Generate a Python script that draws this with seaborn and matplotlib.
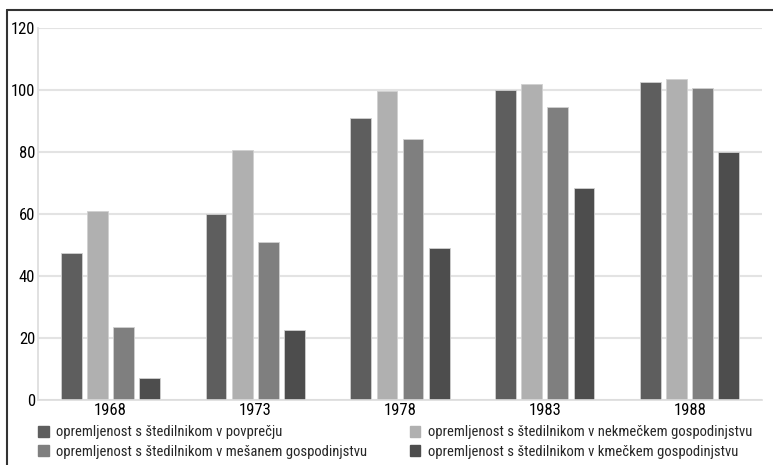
import matplotlib
matplotlib.use("Agg")
import matplotlib.pyplot as plt
import matplotlib.lines as mlines
import seaborn as sns
import pandas as pd
from matplotlib import font_manager

years = ["1968", "1973", "1978", "1983", "1988"]
series = [
    "opremljenost s štedilnikom v povprečju",
    "opremljenost s štedilnikom v nekmečkem gospodinjstvu",
    "opremljenost s štedilnikom v mešanem gospodinjstvu",
    "opremljenost s štedilnikom v kmečkem gospodinjstvu",
]
povprecje = [47.5, 60, 91, 100, 102.5]
nekmecko = [61, 80.5, 99.5, 102, 103.5]
mesano = [23.5, 51, 84, 94.5, 100.5]
kmecko = [7, 22.7, 49, 68.5, 80]
colors = ["#5e5e5e", "#b0b0b0", "#7f7f7f", "#4d4d4d"]
yticks = [0, 20, 40, 60, 80, 100, 120]

rows = []
for name, vals in zip(series, [povprecje, nekmecko, mesano, kmecko]):
    for y, v in zip(years, vals):
        rows.append({"leto": y, "serija": name, "vrednost": v})
df = pd.DataFrame(rows)

sns.set_theme(style="white")
avail = {f.name for f in font_manager.fontManager.ttflist}
fams = [f for f in ["Liberation Sans Narrow", "DejaVu Sans Condensed", "Roboto Condensed"] if f in avail]
plt.rcParams["font.family"] = fams + ["DejaVu Sans"]

fig = plt.figure(figsize=(7.73, 4.65), dpi=100)
ax = fig.add_axes([0.049, 0.140, 0.937, 0.800])

sns.barplot(data=df, x="leto", y="vrednost", hue="serija", order=years,
            hue_order=series, palette=colors, width=0.72, gap=0.2,
            ax=ax, legend=False, saturation=1, edgecolor="#d0d0d0", linewidth=0.6)

ax.set_ylim(0, 120)
ax.set_yticks(yticks)
ax.set_yticklabels([str(t) for t in yticks])
ax.set_xlabel("")
ax.set_ylabel("")
ax.yaxis.grid(True, color="#e3e3e3", linewidth=1.5)
ax.set_axisbelow(True)
for s in ["top", "right"]:
    ax.spines[s].set_visible(False)
for s in ["left", "bottom"]:
    ax.spines[s].set_color("#dcdcdc")
    ax.spines[s].set_linewidth(1.2)
ax.tick_params(axis="both", length=0, labelsize=12, colors="black", pad=2)
ax.tick_params(axis="y", pad=2)

handles = [plt.Rectangle((0, 0), 1, 1, color=c) for c in colors]
order = [0, 2, 1, 3]
fig.legend([handles[i] for i in order], [series[i] for i in order],
           loc="upper left", bbox_to_anchor=(0.049, 0.085), ncol=2,
           frameon=False, fontsize=10.5, handlelength=0.75, handleheight=0.75,
           handletextpad=0.5, columnspacing=2.9, labelspacing=0.35,
           borderaxespad=0, borderpad=0)

# figure frame lines (left and top)
fig.add_artist(mlines.Line2D([0.009, 0.009], [0.0, 0.979], color="#333333", lw=1.5, transform=fig.transFigure))
fig.add_artist(mlines.Line2D([0.009, 1.0], [0.979, 0.979], color="#333333", lw=1.5, transform=fig.transFigure))

fig.savefig("out.png", dpi=100)
